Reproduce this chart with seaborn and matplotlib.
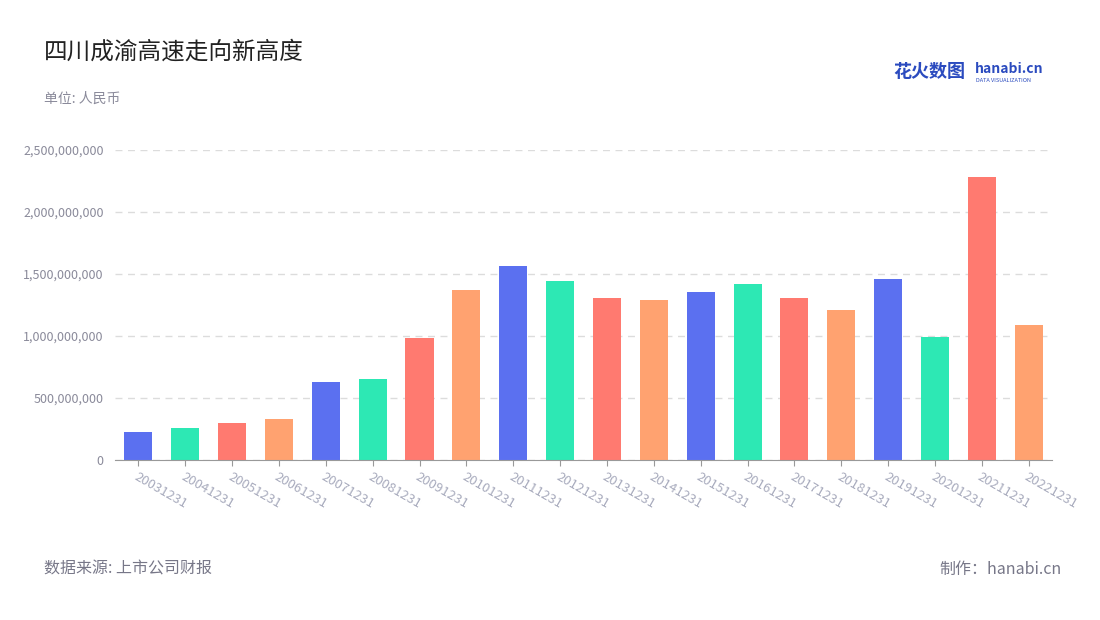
import matplotlib
matplotlib.use("Agg")
import matplotlib.pyplot as plt
import seaborn as sns
import pandas as pd

plt.rcParams["font.family"] = ["Noto Sans CJK SC"]

# data
years = ["20031231", "20041231", "20051231", "20061231", "20071231", "20081231",
         "20091231", "20101231", "20111231", "20121231", "20131231", "20141231",
         "20151231", "20161231", "20171231", "20181231", "20191231", "20201231",
         "20211231", "20221231"]
values = [226e6, 258e6, 298e6, 331e6, 629e6, 653e6, 984e6, 1371e6, 1565e6, 1444e6,
          1306e6, 1290e6, 1355e6, 1419e6, 1306e6, 1210e6, 1460e6, 992e6, 2282e6, 1089e6]
yticks = [0, 500e6, 1000e6, 1500e6, 2000e6, 2500e6]

palette = ["#5B70F0", "#2DE8B4", "#FF7A70", "#FFA270"]
colors = [palette[i % 4] for i in range(len(years))]

df = pd.DataFrame({"date": years, "value": values})

fig = plt.figure(figsize=(11, 6.2), dpi=100)
ax = fig.add_axes([0.1045, 0.258, 0.852, 0.5])
sns.barplot(data=df, x="date", y="value", hue="date", palette=colors,
            legend=False, width=0.6, ax=ax, saturation=1)

ax.set_ylim(0, 2.5e9)
ax.set_xlim(-0.5, len(years) - 0.5)
ax.set_yticks(yticks)
ax.set_yticklabels([f"{int(v):,}" for v in yticks], color="#8a8a9a", fontsize=9)
ax.set_xticks(range(len(years)))
ax.set_xticklabels(years, rotation=-30, ha="left", rotation_mode="anchor",
                   color="#a8abbd", fontsize=9.5)
ax.set_xlabel("")
ax.set_ylabel("")
ax.grid(axis="y", linestyle=(0, (5, 4)), color="#dcdcdc", linewidth=1)
ax.set_axisbelow(True)
for s in ["top", "right", "left"]:
    ax.spines[s].set_visible(False)
ax.spines["bottom"].set_color("#999999")
ax.tick_params(axis="y", length=0, pad=8)
ax.tick_params(axis="x", length=4, color="#999999")

fig.text(0.04, 0.905, "四川成渝高速走向新高度", fontsize=17, color="#222222")
fig.text(0.04, 0.835, "单位: 人民币", fontsize=10, color="#8a8a9a")
fig.text(0.04, 0.075, "数据来源: 上市公司财报", fontsize=11.5, color="#777788")
fig.text(0.965, 0.075, "制作：hanabi.cn", fontsize=11.5, color="#777788", ha="right")
fig.text(0.812, 0.876, "花火数图", fontsize=13, color="#2b4bbf", fontweight="bold")
fig.text(0.886, 0.882, "hanabi.cn", fontsize=10, color="#2b4bbf", fontweight="bold")
fig.text(0.887, 0.868, "DATA VISUALIZATION", fontsize=4, color="#2b4bbf")

fig.savefig("out.png", dpi=100)
